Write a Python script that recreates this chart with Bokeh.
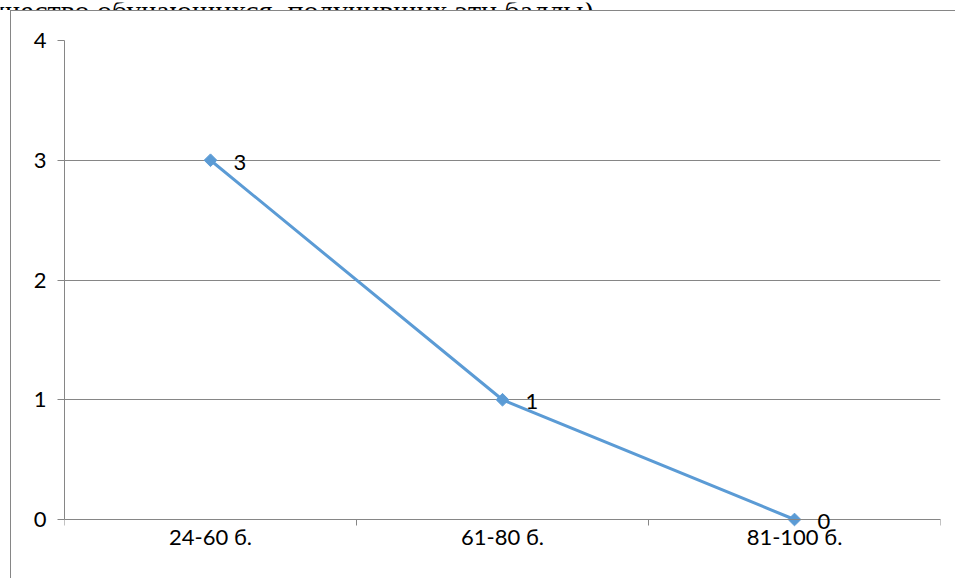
import math
from bokeh.plotting import figure
from bokeh.layouts import column
from bokeh.models import ColumnDataSource, FixedTicker, Range1d, LabelSet
from bokeh.core.properties import value
from bokeh.embed import file_html
from bokeh.resources import INLINE

categories = ["24-60 б.", "61-80 б.", "81-100 б."]
values = [3, 1, 0]
y_ticks = [0, 1, 2, 3, 4]
caption = "(количество обучающихся, получивших эти баллы)"

BLUE = "#5B9BD5"
GRAY = "#868686"
FONT = "Lato"

# ---- caption strip (cut by the page top, as in the reference) ----
cap = figure(width=956, height=10, output_backend="svg", toolbar_location=None,
             x_range=Range1d(0, 956), y_range=Range1d(0, 10),
             x_axis_type=None, y_axis_type=None, min_border=0,
             min_border_left=0, min_border_right=0, min_border_top=0,
             min_border_bottom=0)
cap.frame_align = False
cap.outline_line_color = None
cap.grid.grid_line_color = None
cap.text(x=[593], y=[2], text=[caption], text_align="right",
         text_baseline="alphabetic", text_font=value("Liberation Serif"),
         text_font_size="30px", text_color="black")

# ---- main chart ----
W, H = 945, 568
TOP, LEFT, RIGHT, AXIS_Y = 29, 53, 16, 508   # canvas pixels
px_per_unit = (AXIS_Y - TOP) / 4.0
y_start = -(H - AXIS_Y) / px_per_unit        # frame runs below the x axis

xs = [i + 0.5 for i in range(len(categories))]
src = ColumnDataSource(dict(x=xs, y=values, lab=[str(v) for v in values]))

p = figure(width=W, height=H, output_backend="svg", toolbar_location=None,
           x_range=Range1d(0, len(categories)), y_range=Range1d(y_start, 4),
           min_border_left=LEFT, min_border_right=RIGHT, min_border_top=TOP,
           min_border_bottom=0)
p.frame_align = False
p.margin = (0, 0, 0, 10)
p.styles = {"border-left": f"1px solid {GRAY}", "border-top": f"1px solid {GRAY}"}
p.outline_line_color = None

p.line("x", "y", source=src, line_color=BLUE, line_width=3)
p.scatter("x", "y", source=src, marker="square", angle=math.pi / 4, size=9,
          fill_color=BLUE, line_color=BLUE)
p.add_layout(LabelSet(x="x", y="y", text="lab", source=src, x_offset=23,
                      y_offset=-2, text_baseline="middle", text_align="left",
                      text_font=value(FONT), text_font_size="22px",
                      text_color="black"))

# x axis at y = 0: category labels at centers, tick marks at boundaries
xa = p.xaxis[0]
xa.fixed_location = 0
xa.ticker = FixedTicker(ticks=xs, minor_ticks=list(range(len(categories) + 1)))
xa.major_label_overrides = {x: c for x, c in zip(xs, categories)}
xa.major_tick_line_color = None
xa.minor_tick_line_color = GRAY
xa.minor_tick_out = 6
xa.minor_tick_in = 0
xa.axis_line_color = GRAY
xa.major_label_text_font = FONT
xa.major_label_text_font_size = "22px"
xa.major_label_text_color = "black"
xa.major_label_standoff = -3

ya = p.yaxis[0]
ya.bounds = (0, 4)
ya.ticker = FixedTicker(ticks=y_ticks, minor_ticks=[])
ya.major_tick_line_color = GRAY
ya.major_tick_out = 7
ya.major_tick_in = 0
ya.axis_line_color = GRAY
ya.major_label_text_font = FONT
ya.major_label_text_font_size = "22px"
ya.major_label_text_color = "black"
ya.major_label_standoff = 11

p.xgrid.grid_line_color = None
p.ygrid.ticker = FixedTicker(ticks=y_ticks)
p.ygrid.grid_line_color = GRAY
p.ygrid.grid_line_width = 1

layout = column(cap, p, spacing=0)
open("out.html", "w").write(file_html(layout, INLINE))
